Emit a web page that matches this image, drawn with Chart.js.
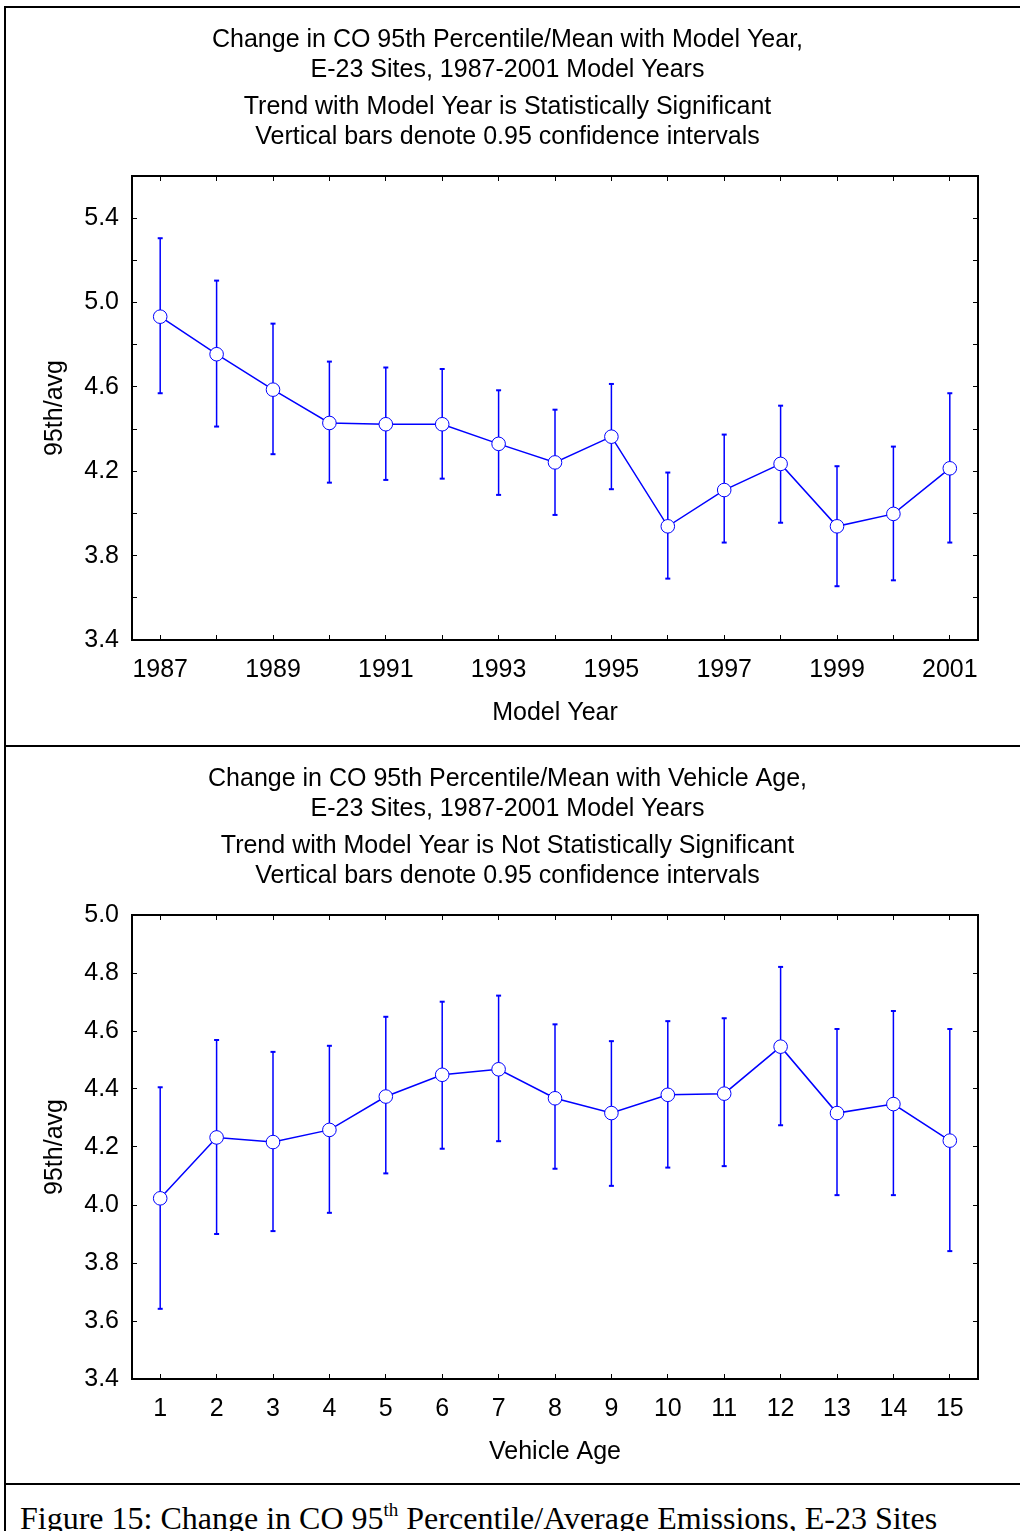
<!DOCTYPE html>
<html>
<head>
<meta charset="utf-8">
<script src="https://cdn.jsdelivr.net/npm/chart.js@4/dist/chart.umd.min.js"></script>
<style>
html,body{margin:0;padding:0;background:#fff;}
body{width:1020px;height:1531px;position:relative;overflow:hidden;}
.panel{position:absolute;left:0;width:1020px;height:738px;}
.rule{position:absolute;background:#000;z-index:5;}
#caption{position:absolute;left:20px;top:1502px;font-family:"Liberation Serif","Times New Roman",serif;font-size:32px;line-height:32px;white-space:nowrap;color:#000;}
#caption sup{font-size:19px;line-height:0;vertical-align:0;position:relative;top:-13px;}
</style>
</head>
<body>
<div class="panel" style="top:0"><canvas id="c1" width="1020" height="738"></canvas></div>
<div class="panel" style="top:739px"><canvas id="c2" width="1020" height="738"></canvas></div>
<div class="rule" style="left:4px;top:6px;width:1016px;height:2px"></div>
<div class="rule" style="left:4px;top:6px;width:2px;height:1525px"></div>
<div class="rule" style="left:4px;top:745px;width:1016px;height:2px"></div>
<div class="rule" style="left:4px;top:1483px;width:1016px;height:2px"></div>
<div id="caption">Figure 15: Change in CO 95<sup>th</sup> Percentile/Average Emissions, E-23 Sites</div>
<script>
// ---- Data: top panel (by model year) ----
const modelYears = [1987,1988,1989,1990,1991,1992,1993,1994,1995,1996,1997,1998,1999,2000,2001];
const yearMean  = [4.933,4.755,4.587,4.429,4.423,4.423,4.330,4.242,4.364,3.939,4.111,4.235,3.939,3.998,4.214];
const yearUpper = [5.305,5.104,4.900,4.720,4.692,4.685,4.584,4.492,4.614,4.194,4.374,4.511,4.224,4.317,4.570];
const yearLower = [4.570,4.412,4.281,4.146,4.159,4.165,4.088,3.993,4.115,3.691,3.862,3.956,3.655,3.683,3.862];
const yearTickLabels = ['1987','','1989','','1991','','1993','','1995','','1997','','1999','','2001'];
const topYTicks  = [3.4,3.6,3.8,4.0,4.2,4.4,4.6,4.8,5.0,5.2,5.4];
const topYLabels = ['3.4','','3.8','','4.2','','4.6','','5.0','','5.4'];

// ---- Data: bottom panel (by vehicle age) ----
const vehicleAges = [1,2,3,4,5,6,7,8,9,10,11,12,13,14,15];
const ageMean  = [4.023,4.233,4.217,4.259,4.374,4.449,4.468,4.368,4.317,4.380,4.384,4.546,4.317,4.348,4.222];
const ageUpper = [4.406,4.569,4.528,4.549,4.649,4.701,4.722,4.623,4.565,4.634,4.644,4.821,4.607,4.669,4.607];
const ageLower = [3.642,3.900,3.910,3.973,4.109,4.194,4.220,4.125,4.066,4.129,4.134,4.275,4.034,4.034,3.841];
const ageTickLabels = ['1','2','3','4','5','6','7','8','9','10','11','12','13','14','15'];
const botYTicks  = [3.4,3.6,3.8,4.0,4.2,4.4,4.6,4.8,5.0];
const botYLabels = ['3.4','3.6','3.8','4.0','4.2','4.4','4.6','4.8','5.0'];

const BLUE = 'rgb(0,0,255)';
const FONT = '"Liberation Sans", Arial, Helvetica, sans-serif';
const FS = 25;
Chart.defaults.font.family = FONT;
Chart.defaults.color = '#000';

function makeChart(id, o) {
  const meanPts = o.xs.map((x, i) => ({x: x, y: o.mean[i]}));
  const ciPts = [];
  o.xs.forEach((x, i) => {
    ciPts.push({x: x, y: o.lower[i]});
    ciPts.push({x: x, y: o.upper[i]});
    ciPts.push({x: x, y: null});
  });
  const tickSet = (arr) => (s) => { s.ticks = arr.map(v => ({value: v})); };
  const gridOpts = {display: true, drawOnChartArea: false, drawTicks: true, tickLength: -5, color: '#000', lineWidth: 1};
  const borderOpts = {display: true, color: '#000', width: 2};
  const xMin = o.xs[0] - 0.5, xMax = o.xs[o.xs.length - 1] + 0.5;
  return new Chart(document.getElementById(id), {
    type: 'scatter',
    data: {
      datasets: [
        {label: 'mean', data: meanPts, showLine: true, borderColor: BLUE, borderWidth: 1.5,
         pointStyle: 'circle', pointRadius: 6.8, pointBorderWidth: 1, pointBackgroundColor: '#fff',
         pointBorderColor: BLUE, tension: 0},
        {label: 'ci', data: ciPts, showLine: true, spanGaps: false, borderColor: BLUE, borderWidth: 1.5,
         pointStyle: 'line', pointRadius: 2.5, pointBorderWidth: 2, pointBorderColor: BLUE}
      ]
    },
    options: {
      responsive: false,
      animation: false,
      events: [],
      layout: {padding: {left: 37, right: 42, top: 0, bottom: 0}},
      plugins: {
        legend: {display: false},
        tooltip: {enabled: false},
        title: {display: true, text: o.title, color: '#000',
                font: {family: FONT, size: FS, weight: 'normal', lineHeight: 30/FS},
                padding: {top: 25, bottom: 0}},
        subtitle: {display: true, text: o.subtitle, color: '#000',
                font: {family: FONT, size: FS, weight: 'normal', lineHeight: 30/FS},
                padding: {top: 7, bottom: 0}}
      },
      scales: {
        x: {type: 'linear', axis: 'x', position: 'bottom', min: xMin, max: xMax,
            afterBuildTicks: tickSet(o.xs),
            afterFit: (s) => { s.height = 98; s.paddingLeft = 0; s.paddingRight = 0; },
            ticks: {callback: (v, i) => o.xLabels[i], padding: 20, autoSkip: false, maxRotation: 0, minRotation: 0,
                    font: {size: FS}, color: '#000'},
            grid: gridOpts, border: borderOpts,
            title: {display: true, text: o.xTitle, color: '#000', font: {size: FS, lineHeight: 1.2},
                    padding: {top: 0, bottom: 9.5}}},
        x2: {type: 'linear', axis: 'x', position: 'top', min: xMin, max: xMax,
            afterBuildTicks: tickSet(o.xs),
            afterFit: (s) => { s.height = 24; s.paddingLeft = 0; s.paddingRight = 0; },
            ticks: {display: false, autoSkip: false},
            grid: gridOpts, border: borderOpts},
        y: {type: 'linear', axis: 'y', position: 'left', min: o.yMin, max: o.yMax,
            afterBuildTicks: tickSet(o.yTicks),
            afterFit: (s) => { s.width = 95; s.paddingTop = 0; s.paddingBottom = 0; },
            ticks: {callback: (v, i) => o.yLabels[i], padding: 18, autoSkip: false, font: {size: FS}, color: '#000'},
            grid: gridOpts, border: borderOpts,
            title: {display: true, text: '95th/avg', color: '#000', font: {size: FS, lineHeight: 1},
                    padding: {top: 5.5, bottom: 0}}},
        y2: {type: 'linear', axis: 'y', position: 'right', min: o.yMin, max: o.yMax,
            afterBuildTicks: tickSet(o.yTicks),
            afterFit: (s) => { s.width = 0; s.paddingTop = 0; s.paddingBottom = 0; },
            ticks: {display: false, autoSkip: false},
            grid: gridOpts, border: borderOpts}
      }
    }
  });
}

makeChart('c1', {
  xs: modelYears, mean: yearMean, upper: yearUpper, lower: yearLower,
  xLabels: yearTickLabels, yTicks: topYTicks, yLabels: topYLabels, yMin: 3.4, yMax: 5.6,
  xTitle: 'Model Year',
  title: ['Change in CO 95th Percentile/Mean with Model Year,', 'E-23 Sites, 1987-2001 Model Years'],
  subtitle: ['Trend with Model Year is Statistically Significant', 'Vertical bars denote 0.95 confidence intervals']
});
makeChart('c2', {
  xs: vehicleAges, mean: ageMean, upper: ageUpper, lower: ageLower,
  xLabels: ageTickLabels, yTicks: botYTicks, yLabels: botYLabels, yMin: 3.4, yMax: 5.0,
  xTitle: 'Vehicle Age',
  title: ['Change in CO 95th Percentile/Mean with Vehicle Age,', 'E-23 Sites, 1987-2001 Model Years'],
  subtitle: ['Trend with Model Year is Not Statistically Significant', 'Vertical bars denote 0.95 confidence intervals']
});
</script>
</body>
</html>
